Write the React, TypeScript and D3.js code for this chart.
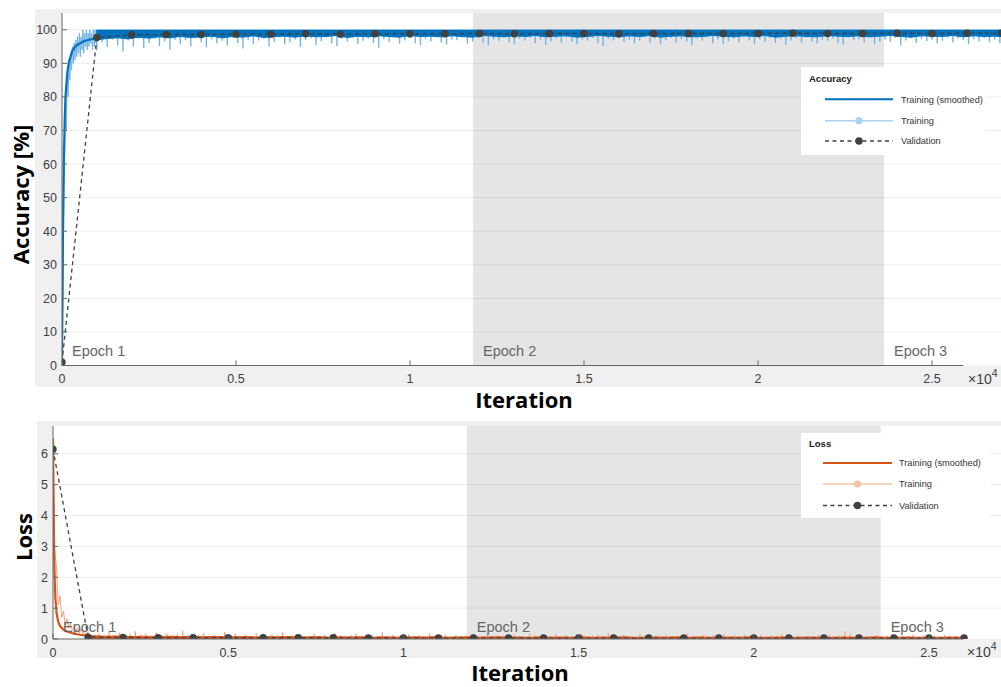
import React from 'react';
import * as d3 from 'd3';

const W = 1001;
const H = 687;

// ---- epochs -------------------------------------------------------------
const epochStarts = [0, 11810, 23620];
const epochNames = ['Epoch 1', 'Epoch 2', 'Epoch 3'];

// ---- accuracy: validation checkpoints -----------------------------------
const accValIter = [0, 1000, 2000, 3000, 4000, 5000, 6000, 7000, 8000, 9000, 10000, 11000, 12000, 13000,
  14000, 15000, 16000, 17000, 18000, 19000, 20000, 21000, 22000, 23000, 24000, 25000, 26000, 27000];
const accVal = [1.0, 97.7, 98.5, 98.6, 98.6, 98.7, 98.7, 98.8, 98.7, 98.8, 98.8, 98.8, 98.9, 98.8,
  98.9, 98.9, 98.8, 98.9, 98.9, 98.9, 98.9, 99.0, 98.9, 98.9, 99.0, 98.9, 99.0, 99.0];

// ---- accuracy: smoothed training, first 1000 iterations -----------------
const accSmoothEarlyIter = [0, 20, 40, 60, 80, 100, 150, 200, 300, 400, 600, 800, 1000];
const accSmoothEarly = [1, 30, 52, 64, 74, 80, 87, 90.5, 93.8, 95.2, 96.5, 97.1, 97.5];

// ---- accuracy: smoothed band after 1000 iterations (every 300 iterations) -
const accBandStart = 1000;
const accBandStep = 300;
const accBandTop = 99.9;
const accBandLow = [
  97.0, 97.4, 97.6, 97.3, 97.8, 97.5, 97.9, 97.6, 98.0, 97.7,
  97.9, 98.1, 97.6, 98.0, 97.8, 98.2, 97.7, 98.0, 98.1, 97.8,
  98.2, 97.9, 98.0, 98.3, 97.7, 98.1, 97.9, 98.2, 98.0, 97.8,
  98.3, 98.0, 98.1, 97.9, 98.2, 98.0, 97.8, 98.3, 98.1, 97.9,
  98.2, 98.0, 98.3, 97.9, 98.1, 98.2, 97.8, 98.0, 98.3, 98.1,
  97.9, 98.2, 98.0, 98.3, 97.8, 98.1, 98.2, 97.9, 98.0, 98.3,
  98.1, 97.9, 98.2, 98.0, 98.3, 97.8, 98.1, 98.2, 98.0, 97.9,
  98.3, 98.1, 98.0, 98.2, 97.9, 98.1, 98.3, 98.0, 97.8, 98.2,
  98.1, 98.0, 98.3, 97.9, 98.2, 98.0, 98.1, 97.9,
];

// ---- accuracy: raw mini-batch training ---------------------------------
const accRawEarlyIter = [0, 25, 50, 75, 100, 125, 150, 175, 200, 225, 250, 275, 300, 325, 350, 375, 400, 425, 450, 475,
  500, 525, 550, 575, 600, 625, 650, 675, 700, 725, 750, 775, 800, 825, 850, 875, 900, 925, 950, 975, 1000];
const accRawEarly = [1, 20, 45, 62, 78, 70, 86, 80, 90, 85, 93, 88, 95, 90, 96, 91, 97, 92, 98, 93,
  99, 92, 98, 94, 100, 93, 99, 95, 100, 94, 99, 95, 100, 96, 99, 94, 100, 95, 100, 96, 99];
const accRawStart = 1000;
const accRawStep = 150;
const accRawTop = 100;
const accRawLow = [
  93.8, 96.2, 94.9, 97.1, 95.4, 93.5, 96.8, 95.0, 97.3, 94.6,
  96.0, 97.4, 95.2, 96.6, 94.1, 97.0, 95.8, 96.9, 95.1, 97.5,
  96.3, 94.8, 97.2, 95.9, 96.7, 95.3, 97.6, 96.1, 94.4, 97.0,
  95.7, 96.8, 97.4, 95.0, 96.4, 97.7, 95.6, 96.2, 97.1, 94.9,
  96.9, 97.5, 95.5, 96.6, 97.8, 96.0, 95.2, 97.3, 96.5, 97.6,
  95.8, 96.7, 97.4, 96.1, 94.7, 97.2, 96.4, 97.7, 95.9, 96.8,
  97.5, 96.0, 95.4, 97.3, 96.6, 97.8, 96.2, 95.6, 97.1, 96.9,
  97.6, 95.9, 96.5, 97.4, 96.0, 95.3, 97.2, 96.7, 97.8, 96.3,
  95.7, 97.3, 96.8, 97.6, 96.1, 97.0, 95.5, 96.6, 97.5, 96.2,
  97.7, 96.4, 95.8, 97.1, 96.9, 97.6, 96.0, 95.2, 97.3, 96.8,
  97.5, 96.3, 97.0, 95.9, 96.7, 97.8, 96.1, 97.4, 95.6, 96.9,
  97.6, 96.2, 97.2, 96.5, 95.4, 97.5, 96.8, 97.7, 96.0, 97.1,
  95.8, 96.6, 97.4, 96.3, 97.8, 96.9, 95.7, 97.2, 96.4, 97.6,
  96.1, 97.3, 95.5, 96.8, 97.5, 96.2, 97.7, 96.6, 95.9, 97.0,
  96.7, 97.4, 96.0, 95.6, 97.6, 96.9, 97.2, 96.3, 97.8, 95.8,
  96.5, 97.1, 96.4, 97.7, 95.3, 96.8, 97.5, 96.1, 97.3, 96.6,
  97.0, 95.9, 96.7, 97.6, 96.2, 97.4, 96.9, 95.7, 97.2, 96.5,
  97.5, 96.3, 97.1, 96.0, 97.7, 96.8,
];

// ---- loss: validation checkpoints ---------------------------------------
const lossValIter = [0, 1000, 2000, 3000, 4000, 5000, 6000, 7000, 8000, 9000, 10000, 11000, 12000, 13000,
  14000, 15000, 16000, 17000, 18000, 19000, 20000, 21000, 22000, 23000, 24000, 25000, 26000];
const lossVal = [6.15, 0.06, 0.05, 0.045, 0.045, 0.04, 0.04, 0.04, 0.04, 0.035, 0.035, 0.035, 0.035, 0.035,
  0.03, 0.03, 0.03, 0.03, 0.03, 0.03, 0.03, 0.03, 0.03, 0.03, 0.03, 0.03, 0.03];

// ---- loss: smoothed training, first 1000 iterations ---------------------
const lossSmoothEarlyIter = [0, 15, 30, 50, 70, 100, 150, 200, 300, 400, 600, 800, 1000];
const lossSmoothEarly = [6.5, 4.5, 2.8, 1.9, 1.3, 0.85, 0.55, 0.42, 0.3, 0.24, 0.17, 0.13, 0.11];

// ---- loss: smoothed band after 1000 iterations (every 300 iterations) ---
const lossBandStart = 1000;
const lossBandStep = 300;
const lossBandFloor = 0.02;
const lossBandHigh = [
  0.11, 0.10, 0.09, 0.10, 0.08, 0.09, 0.085, 0.08, 0.09, 0.075,
  0.08, 0.07, 0.085, 0.075, 0.07, 0.08, 0.065, 0.075, 0.07, 0.08,
  0.065, 0.07, 0.075, 0.06, 0.07, 0.065, 0.075, 0.06, 0.07, 0.065,
  0.06, 0.07, 0.065, 0.075, 0.06, 0.065, 0.07, 0.06, 0.065, 0.07,
  0.06, 0.065, 0.055, 0.07, 0.06, 0.065, 0.06, 0.07, 0.055, 0.065,
  0.06, 0.07, 0.055, 0.06, 0.065, 0.06, 0.07, 0.055, 0.065, 0.06,
  0.055, 0.065, 0.06, 0.07, 0.055, 0.06, 0.065, 0.055, 0.06, 0.065,
  0.055, 0.06, 0.065, 0.055, 0.06, 0.07, 0.055, 0.06, 0.065, 0.055,
  0.06, 0.055, 0.065, 0.06,
];

// ---- loss: raw mini-batch training --------------------------------------
const lossRawEarlyIter = [0, 50, 100, 150, 200, 250, 300, 350, 400, 450, 500, 550, 600, 650, 700, 750, 800, 850, 900, 950, 1000];
const lossRawEarly = [6.4, 2.9, 2.3, 1.1, 1.4, 0.7, 0.9, 0.45, 0.65, 0.35, 0.5, 0.28, 0.42, 0.22, 0.36, 0.18, 0.32, 0.15, 0.27, 0.12, 0.22];
const lossRawStart = 1000;
const lossRawStep = 150;
const lossRawFloor = 0.01;
const lossRawHigh = [
  0.24, 0.12, 0.19, 0.09, 0.28, 0.14, 0.21, 0.10, 0.17, 0.25,
  0.11, 0.16, 0.08, 0.22, 0.13, 0.18, 0.09, 0.15, 0.27, 0.12,
  0.07, 0.14, 0.19, 0.10, 0.12, 0.08, 0.23, 0.11, 0.16, 0.09,
  0.13, 0.07, 0.18, 0.10, 0.06, 0.15, 0.12, 0.21, 0.08, 0.11,
  0.14, 0.09, 0.07, 0.17, 0.10, 0.13, 0.06, 0.19, 0.11, 0.08,
  0.12, 0.16, 0.07, 0.10, 0.14, 0.08, 0.22, 0.09, 0.13, 0.06,
  0.11, 0.15, 0.08, 0.12, 0.07, 0.18, 0.10, 0.09, 0.14, 0.07,
  0.13, 0.06, 0.11, 0.16, 0.08, 0.10, 0.20, 0.07, 0.12, 0.09,
  0.06, 0.14, 0.10, 0.08, 0.17, 0.11, 0.07, 0.13, 0.09, 0.15,
  0.08, 0.12, 0.06, 0.10, 0.16, 0.07, 0.11, 0.14, 0.08, 0.19,
  0.10, 0.07, 0.13, 0.09, 0.06, 0.15, 0.11, 0.08, 0.12, 0.07,
  0.14, 0.09, 0.06, 0.11, 0.18, 0.08, 0.10, 0.13, 0.07, 0.12,
  0.09, 0.16, 0.07, 0.11, 0.08, 0.14, 0.10, 0.06, 0.13, 0.09,
  0.11, 0.07, 0.15, 0.10, 0.08, 0.12, 0.10, 0.09, 0.06, 0.13,
  0.10, 0.14, 0.07, 0.11, 0.24, 0.16, 0.08, 0.12, 0.06, 0.10,
  0.13, 0.08, 0.11, 0.15, 0.07, 0.10, 0.09, 0.14, 0.08, 0.12,
  0.07, 0.11, 0.09, 0.13, 0.08, 0.10, 0.09,
];

// ---- axis ticks ----------------------------------------------------------
const iterTicks = [0, 5000, 10000, 15000, 20000, 25000];
const iterTickLabels = ['0', '0.5', '1', '1.5', '2', '2.5'];
const accTicks = [0, 10, 20, 30, 40, 50, 60, 70, 80, 90, 100];
const lossTicks = [0, 1, 2, 3, 4, 5, 6];

const TICK_FONT = "'Liberation Sans', Arial, Helvetica, sans-serif";
const TITLE_FONT = "'Open Sans', 'DejaVu Sans', sans-serif";

type Pt = [number, number];

type Spec = {
  id: string;
  panel: { x: number; y: number; w: number; h: number };
  left: number;
  top: number;
  axisY: number;
  right: number;
  x25k: number;
  yMax: number;
  axisEndIter: number;
  expX: number;
  yTicks: number[];
  epochLabelY: number;
  valIter: number[];
  val: number[];
  smoothEarlyIter: number[];
  smoothEarly: number[];
  band: { start: number; step: number; vals: number[]; fixed: number };
  rawEarlyIter: number[];
  rawEarly: number[];
  raw: { start: number; step: number; vals: number[]; fixed: number };
  dark: string;
  light: string;
  legendLight: string;
  legend: { x: number; y: number; w: number; h: number; title: string; titleY: number; rows: number[]; lx0: number; lx1: number; tx: number };
  xLabel: { x: number; y: number };
  yLabel: { x: number; y: number; text: string };
};

function Panel({ s }: { s: Spec }) {
  const x = d3.scaleLinear().domain([0, 25000]).range([s.left, s.x25k]);
  const y = d3.scaleLinear().domain([0, s.yMax]).range([s.axisY, s.top]);
  const line = d3.line<Pt>().x((d) => x(d[0])).y((d) => y(d[1]));

  const rawEarlyPts: Pt[] = s.rawEarlyIter.map((it, i) => [it, s.rawEarly[i]] as Pt);
  // each later raw bucket drawn as one excursion from the resting level
  const rawSpikes = s.raw.vals
    .map((v, i) => {
      const it = s.raw.start + i * s.raw.step;
      return `M${x(it)},${y(s.raw.fixed)}L${x(it)},${y(v)}`;
    })
    .join('');
  const smoothPts: Pt[] = s.smoothEarlyIter.map((it, i) => [it, s.smoothEarly[i]] as Pt);
  const bandArea = d3.area<number>()
    .x((_, i) => x(s.band.start + i * s.band.step))
    .y0((d) => y(d))
    .y1(() => y(s.band.fixed));
  const valPts: Pt[] = s.valIter.map((it, i) => [it, s.val[i]] as Pt);

  const plotW = s.right - s.left;
  const plotH = s.axisY - s.top;
  const clipId = `clip-${s.id}`;
  const epochEnds = epochStarts.slice(1).concat([1e9]);
  const L = s.legend;
  const mid = (L.lx0 + L.lx1) / 2;

  return (
    <g>
      <defs>
        <clipPath id={clipId}>
          <rect x={s.left} y={s.top} width={plotW} height={plotH} />
        </clipPath>
      </defs>
      <rect x={s.panel.x} y={s.panel.y} width={s.panel.w} height={s.panel.h} fill="#f0f0f0" />
      <rect x={s.left} y={s.top} width={plotW} height={plotH} fill="#ffffff" />
      {/* alternate epochs shaded */}
      {epochStarts.map((st, i) =>
        i % 2 === 1 ? (
          <rect key={i} x={x(st)} y={s.top} width={Math.min(x(epochEnds[i]), s.right) - x(st)} height={plotH} fill="#e5e5e5" />
        ) : null
      )}
      {/* horizontal grid */}
      {s.yTicks.filter((t) => t > 0).map((t) => (
        <line key={t} x1={s.left} x2={s.right} y1={y(t)} y2={y(t)} stroke="#000" strokeOpacity={0.075} strokeWidth={1} />
      ))}
      <g clipPath={`url(#${clipId})`}>
        <path d={line(rawEarlyPts) || ''} fill="none" stroke={s.light} strokeWidth={1} strokeLinejoin="round" />
        <path d={rawSpikes} fill="none" stroke={s.light} strokeWidth={1.4} />
        <path d={bandArea(s.band.vals) || ''} fill={s.dark} stroke={s.dark} strokeWidth={1} />
        <path d={line(smoothPts) || ''} fill="none" stroke={s.dark} strokeWidth={2.2} />
        <path d={line(valPts) || ''} fill="none" stroke="#404040" strokeWidth={1.3} strokeDasharray="4,3.5" />
        {valPts.map((p, i) => (
          <circle key={i} cx={x(p[0])} cy={y(p[1])} r={3.7} fill="#404040" />
        ))}
      </g>
      {/* epoch labels */}
      {epochStarts.map((st, i) => (
        <text key={i} x={x(st) + 10} y={s.epochLabelY} fontFamily={TICK_FONT} fontSize={14.5} fill="#666">
          {epochNames[i]}
        </text>
      ))}
      {/* axes */}
      <line x1={s.left} x2={x(s.axisEndIter)} y1={s.axisY} y2={s.axisY} stroke="#666" strokeWidth={1} />
      <line x1={s.left} x2={s.left} y1={s.axisY} y2={s.top} stroke="#666" strokeWidth={1} />
      {iterTicks.map((t, i) => (
        <g key={t}>
          <line x1={x(t)} x2={x(t)} y1={s.axisY} y2={s.axisY - 5} stroke="#666" strokeWidth={1} />
          <text x={x(t)} y={s.axisY + 17.5} textAnchor="middle" fontFamily={TICK_FONT} fontSize={12.5} fill="#404040">
            {iterTickLabels[i]}
          </text>
        </g>
      ))}
      <text x={s.expX} y={s.axisY + 18} fontFamily={TICK_FONT} fontSize={14} fill="#404040">
        ×10<tspan fontSize={10.5} dy={-7}>4</tspan>
      </text>
      {s.yTicks.map((t) => (
        <g key={t}>
          <line x1={s.left} x2={s.left + 5} y1={y(t)} y2={y(t)} stroke="#666" strokeWidth={1} />
          <text x={s.left - 5} y={y(t)} dy="0.36em" textAnchor="end" fontFamily={TICK_FONT} fontSize={12.5} fill="#404040">
            {t}
          </text>
        </g>
      ))}
      {/* legend */}
      <rect x={L.x} y={L.y} width={L.w} height={L.h} fill="#ffffff" />
      <text x={L.x + 8} y={L.titleY} fontFamily={TICK_FONT} fontSize={9.5} fontWeight="bold" fill="#1a1a1a">
        {L.title}
      </text>
      <line x1={L.lx0} x2={L.lx1} y1={L.rows[0]} y2={L.rows[0]} stroke={s.dark} strokeWidth={2} />
      <text x={L.tx} y={L.rows[0]} dy="0.35em" fontFamily={TICK_FONT} fontSize={9.2} fill="#333">Training (smoothed)</text>
      <line x1={L.lx0} x2={L.lx1} y1={L.rows[1]} y2={L.rows[1]} stroke={s.legendLight} strokeWidth={1.6} />
      <circle cx={mid} cy={L.rows[1]} r={3.6} fill={s.legendLight} />
      <text x={L.tx} y={L.rows[1]} dy="0.35em" fontFamily={TICK_FONT} fontSize={9.2} fill="#333">Training</text>
      <line x1={L.lx0} x2={L.lx1} y1={L.rows[2]} y2={L.rows[2]} stroke="#404040" strokeWidth={1.3} strokeDasharray="4,3.5" />
      <circle cx={mid} cy={L.rows[2]} r={3.7} fill="#404040" />
      <text x={L.tx} y={L.rows[2]} dy="0.35em" fontFamily={TICK_FONT} fontSize={9.2} fill="#333">Validation</text>
      {/* axis titles */}
      <text x={s.xLabel.x} y={s.xLabel.y} textAnchor="middle" fontFamily={TITLE_FONT} fontWeight={700} fontSize={22} fill="#000">
        Iteration
      </text>
      <text
        transform={`translate(${s.yLabel.x},${s.yLabel.y}) rotate(-90)`}
        textAnchor="middle"
        fontFamily={TITLE_FONT}
        fontWeight={700}
        fontSize={22}
        fill="#000"
      >
        {s.yLabel.text}
      </text>
    </g>
  );
}

const accuracySpec: Spec = {
  id: 'acc',
  panel: { x: 35, y: 9, w: 966, h: 378 },
  left: 62,
  top: 13,
  axisY: 365.5,
  right: W,
  x25k: 932,
  yMax: 105,
  axisEndIter: 25900,
  expX: 968,
  yTicks: accTicks,
  epochLabelY: 356,
  valIter: accValIter,
  val: accVal,
  smoothEarlyIter: accSmoothEarlyIter,
  smoothEarly: accSmoothEarly,
  band: { start: accBandStart, step: accBandStep, vals: accBandLow, fixed: accBandTop },
  rawEarlyIter: accRawEarlyIter,
  rawEarly: accRawEarly,
  raw: { start: accRawStart, step: accRawStep, vals: accRawLow, fixed: accRawTop },
  dark: '#0072BD',
  light: '#72B2E6',
  legendLight: '#A9D1F2',
  legend: { x: 801, y: 67, w: 185, h: 88, title: 'Accuracy', titleY: 82, rows: [99.3, 120.7, 141], lx0: 825, lx1: 893, tx: 901 },
  xLabel: { x: 524, y: 408 },
  yLabel: { x: 29, y: 194.5, text: 'Accuracy [%]' },
};

const lossSpec: Spec = {
  id: 'loss',
  panel: { x: 37, y: 421, w: 964, h: 237 },
  left: 53,
  top: 426,
  axisY: 639,
  right: W,
  x25k: 929,
  yMax: 6.9,
  axisEndIter: 26000,
  expX: 967,
  yTicks: lossTicks,
  epochLabelY: 632,
  valIter: lossValIter,
  val: lossVal,
  smoothEarlyIter: lossSmoothEarlyIter,
  smoothEarly: lossSmoothEarly,
  band: { start: lossBandStart, step: lossBandStep, vals: lossBandHigh, fixed: lossBandFloor },
  rawEarlyIter: lossRawEarlyIter,
  rawEarly: lossRawEarly,
  raw: { start: lossRawStart, step: lossRawStep, vals: lossRawHigh, fixed: lossRawFloor },
  dark: '#D95319',
  light: '#F0A57F',
  legendLight: '#F5C3AA',
  legend: { x: 801, y: 433, w: 189, h: 85, title: 'Loss', titleY: 447, rows: [463, 484, 505.5], lx0: 823, lx1: 892, tx: 899 },
  xLabel: { x: 520, y: 681 },
  yLabel: { x: 31.5, y: 537, text: 'Loss' },
};

export default function App() {
  return (
    <svg
      width={W}
      height={H}
      viewBox={`0 0 ${W} ${H}`}
      style={{ position: 'absolute', left: 0, top: 0, background: '#ffffff' }}
    >
      <rect x={0} y={0} width={W} height={H} fill="#ffffff" />
      <Panel s={accuracySpec} />
      <Panel s={lossSpec} />
    </svg>
  );
}
